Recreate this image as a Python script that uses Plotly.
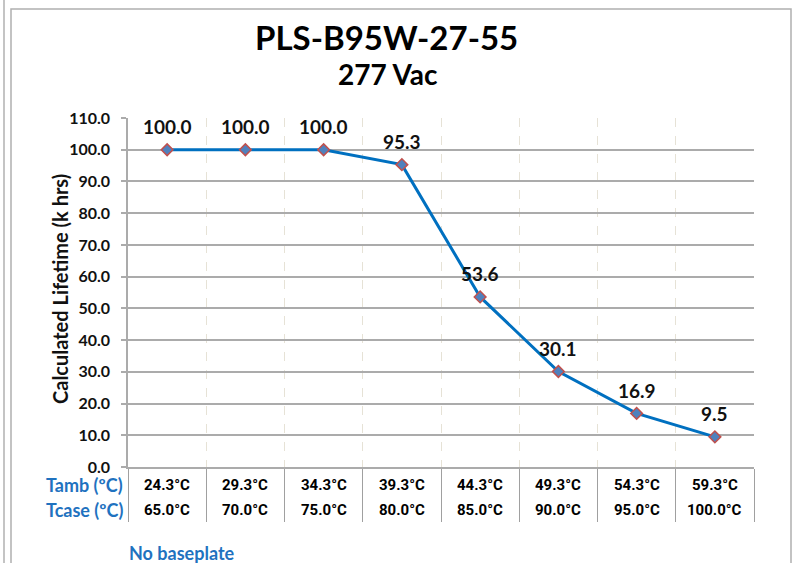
import plotly.graph_objects as go

# ---- data ----
categories = ["65.0°C", "70.0°C", "75.0°C", "80.0°C", "85.0°C", "90.0°C", "95.0°C", "100.0°C"]
tamb_labels = ["24.3°C", "29.3°C", "34.3°C", "39.3°C", "44.3°C", "49.3°C", "54.3°C", "59.3°C"]
tcase_labels = ["65.0°C", "70.0°C", "75.0°C", "80.0°C", "85.0°C", "90.0°C", "95.0°C", "100.0°C"]
lifetime = [100.0, 100.0, 100.0, 95.3, 53.6, 30.1, 16.9, 9.5]
y_ticks = [0, 10, 20, 30, 40, 50, 60, 70, 80, 90, 100, 110]

n = len(lifetime)
xpos = list(range(n))

LBL_FONT = "Lato, Carlito, 'Open Sans', sans-serif"
TBL_FONT = "Roboto, 'Liberation Sans Narrow', 'Liberation Sans', sans-serif"
BLUE_TXT = "#1F72BF"
GRID = "#ABABAB"

# plot area in px
W, H = 795, 563
L, R, T, B = 128, 754, 118, 467
pw, ph = R - L, B - T


def px_x(x):
    return (x - L) / pw


def px_y(y):
    return (B - y) / ph


fig = go.Figure()
fig.add_trace(go.Scatter(
    x=xpos, y=lifetime, mode="lines+markers",
    line=dict(color="#0070C0", width=3),
    marker=dict(symbol="diamond", size=9, color="#4F81BD",
                line=dict(color="#C0504D", width=1.5)),
    hoverinfo="y", showlegend=False,
))


def ann(**kw):
    base = dict(showarrow=False, xanchor="center", yanchor="middle")
    base.update(kw)
    return base


annotations = []
for i, v in enumerate(lifetime):
    annotations.append(ann(x=xpos[i], y=v, xref="x", yref="y", text=f"<b>{v:.1f}</b>",
                           yshift=23, font=dict(family=LBL_FONT, size=19, color="#111111")))
for i in range(n):
    annotations.append(ann(x=xpos[i], y=px_y(485), xref="x", yref="paper",
                           text=f"<b>{tamb_labels[i]}</b>",
                           font=dict(family=TBL_FONT, size=15, color="#000000")))
    annotations.append(ann(x=xpos[i], y=px_y(510), xref="x", yref="paper",
                           text=f"<b>{tcase_labels[i]}</b>",
                           font=dict(family=TBL_FONT, size=15, color="#000000")))
annotations.append(ann(x=px_x(125), y=px_y(485), xref="paper", yref="paper", xanchor="right",
                       text="<b>Tamb (ºC)</b>",
                       font=dict(family=LBL_FONT, size=18, color=BLUE_TXT)))
annotations.append(ann(x=px_x(125), y=px_y(510), xref="paper", yref="paper", xanchor="right",
                       text="<b>Tcase (ºC)</b>",
                       font=dict(family=LBL_FONT, size=18, color=BLUE_TXT)))
annotations.append(ann(x=px_x(127), y=px_y(553), xref="paper", yref="paper", xanchor="left",
                       text="<b>No baseplate</b>",
                       font=dict(family=LBL_FONT, size=18, color=BLUE_TXT)))
annotations.append(ann(x=px_x(386), y=px_y(37), xref="paper", yref="paper",
                       text="<b>PLS-B95W-27-55</b>",
                       font=dict(family=LBL_FONT, size=33, color="#000000")))
annotations.append(ann(x=px_x(388), y=px_y(74), xref="paper", yref="paper",
                       text="<b>277 Vac</b>",
                       font=dict(family=LBL_FONT, size=28, color="#000000")))
annotations.append(ann(x=px_x(60), y=px_y(289), xref="paper", yref="paper", textangle=-90,
                       text="<b>Calculated Lifetime (k hrs)</b>",
                       font=dict(family=LBL_FONT, size=20, color="#111111")))

shapes = [
    dict(type="rect", xref="paper", yref="paper", x0=px_x(11), x1=px_x(791),
         y0=px_y(9), y1=px_y(600), line=dict(color="#B0B0B0", width=1.5), layer="below"),
    dict(type="line", xref="paper", yref="paper", x0=px_x(4), x1=px_x(4),
         y0=px_y(-5), y1=px_y(600), line=dict(color="#B0B0B0", width=1.5), layer="below"),
]

fig.update_layout(
    width=W, height=H,
    margin=dict(l=L, r=W - R, t=T, b=H - B, pad=0),
    paper_bgcolor="white", plot_bgcolor="white",
    annotations=annotations, shapes=shapes,
    xaxis=dict(range=[-0.5, n - 0.5], tickvals=[i - 0.5 for i in range(n + 1)],
               showticklabels=False, ticks="outside", ticklen=53, tickwidth=1.2,
               tickcolor="#A0A0A0", showgrid=True, gridcolor="#E6E2D6", griddash="dash",
               gridwidth=1, showline=True, linecolor=GRID, linewidth=2, zeroline=False,
               fixedrange=True),
    yaxis=dict(range=[0, 110], tickvals=y_ticks,
               ticktext=[f"<b>{v:.1f}</b>" for v in y_ticks],
               tickfont=dict(family=LBL_FONT, size=16, color="#111111"),
               ticks="outside", ticklen=5, tickcolor=GRID, tickwidth=1.5,
               ticklabelstandoff=8,
               showgrid=True, gridcolor=GRID, gridwidth=1.5,
               showline=True, linecolor=GRID, linewidth=1.5, zeroline=False,
               fixedrange=True),
)

fig.write_html("out.html", config={"displayModeBar": False},
               post_script="document.body.style.margin='0';document.body.style.overflow='hidden';")
